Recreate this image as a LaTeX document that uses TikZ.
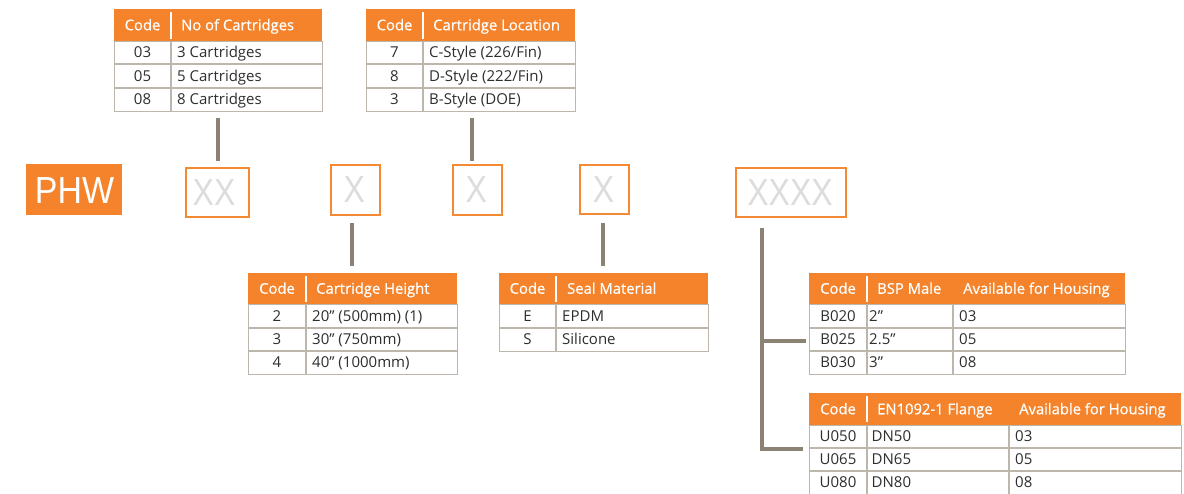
\documentclass[tikz,border=0pt]{standalone}
\usepackage{fontspec}
\setmainfont{Open Sans}
\newfontfamily\hdrfont[FakeBold=0.6]{Open Sans}
\newfontfamily\phwfont[FakeStretch=0.9]{Liberation Sans}
\newfontfamily\phfont[FakeStretch=0.85]{Liberation Sans}
\definecolor{orng}{HTML}{F4832B}
\definecolor{boxc}{HTML}{F58A35}
\definecolor{gridc}{HTML}{BDB6AC}
\definecolor{connc}{HTML}{8C8273}
\definecolor{bodyc}{HTML}{2E2E2E}
\definecolor{phc}{HTML}{DCDCDC}
\tikzset{
  hdr/.style={fill=orng, draw=none, inner sep=0pt, anchor=north west},
  tbody/.style={draw=gridc, line width=1.3pt, inner sep=0pt, anchor=north west, fill=white},
  gridline/.style={draw=gridc, line width=1.3pt},
  hdiv/.style={draw=white, line width=1.5pt},
  ht/.style={text=white, font=\hdrfont\fontsize{14.8}{14.8}\selectfont, inner sep=0pt, text height=10.5pt, text depth=0pt},
  bt/.style={text=bodyc, font=\fontsize{15}{15}\selectfont, inner sep=0pt, text height=10.7pt, text depth=0pt},
  conn/.style={draw=connc, line width=3.3pt},
  phbox/.style={draw=boxc, line width=2pt, inner sep=0pt, anchor=north west},
  phtext/.style={text=phc, font=\phfont\fontsize{37.7}{37.7}\selectfont, inner sep=0pt, text height=27pt, text depth=0pt},
}
\begin{document}
\begin{tikzpicture}[x=1pt,y=-1pt]
\useasboundingbox (0,0) rectangle (1184,493);

% ---------- Table 1: No of Cartridges ----------
\node[hdr, minimum width=208pt, minimum height=32pt] (t1h) at (114,9) {};
\node[tbody, minimum width=208pt, minimum height=70pt] (t1b) at (114,41) {};
\draw[gridline] (114,64) -- (322,64) (114,88) -- (322,88) (171,41) -- (171,111);
\draw[hdiv] (171,12) -- (171,39);
\node[ht] (t1c) at (142.5,25) {Code};
\node[ht, anchor=west] (t1n) at (181,25) {No of Cartridges};
\node[bt] (t1a1) at (142.5,52.5) {03};
\node[bt, anchor=west] (t1b1) at (177,52.5) {3 Cartridges};
\node[bt] (t1a2) at (142.5,76) {05};
\node[bt, anchor=west] (t1b2) at (177,76) {5 Cartridges};
\node[bt] (t1a3) at (142.5,99.5) {08};
\node[bt, anchor=west] (t1b3) at (177,99.5) {8 Cartridges};

% ---------- Table 2: Cartridge Location ----------
\node[hdr, minimum width=209pt, minimum height=32pt] (t2h) at (366,9) {};
\node[tbody, minimum width=209pt, minimum height=70pt] (t2b) at (366,41) {};
\draw[gridline] (366,64) -- (575,64) (366,88) -- (575,88) (423,41) -- (423,111);
\draw[hdiv] (423,12) -- (423,39);
\node[ht] (t2c) at (394.5,25) {Code};
\node[ht, anchor=west] (t2n) at (433,25) {Cartridge Location};
\node[bt] (t2a1) at (394.5,52.5) {7};
\node[bt, anchor=west] (t2b1) at (429,52.5) {C-Style (226/Fin)};
\node[bt] (t2a2) at (394.5,76) {8};
\node[bt, anchor=west] (t2b2) at (429,76) {D-Style (222/Fin)};
\node[bt] (t2a3) at (394.5,99.5) {3};
\node[bt, anchor=west] (t2b3) at (429,99.5) {B-Style (DOE)};

% ---------- Placeholder row ----------
\node[fill=orng, minimum width=96pt, minimum height=50.5pt, inner sep=0pt, anchor=north west] (phw) at (26,164) {};
\node[text=white, font=\phwfont\fontsize{37.7}{37.7}\selectfont, inner sep=0pt, text height=27pt, text depth=0pt] (phwt) at (74.5,189.5) {PHW};

\node[phbox, minimum width=63pt, minimum height=49.3pt] (xx) at (185,166.7) {};
\node[phtext] (xxt) at (214,192) {XX};
\node[phbox, minimum width=48.5pt, minimum height=49.4pt] (xa) at (330,164.3) {};
\node[phtext] (xat) at (354.3,189) {X};
\node[phbox, minimum width=48.5pt, minimum height=49.4pt] (xb) at (452,164.3) {};
\node[phtext] (xbt) at (476.2,189) {X};
\node[phbox, minimum width=49pt, minimum height=49pt] (xc) at (579,164) {};
\node[phtext] (xct) at (603.5,188.5) {X};
\node[phbox, minimum width=110pt, minimum height=49pt] (xd) at (735,167) {};
\node[phtext] (xdt) at (790,192) {XXXX};

% ---------- Table 3: Cartridge Height ----------
\node[hdr, minimum width=209pt, minimum height=31pt] (t3h) at (248,273) {};
\node[tbody, minimum width=209pt, minimum height=70pt] (t3b) at (248,304) {};
\draw[gridline] (248,328) -- (457,328) (248,351) -- (457,351) (306,304) -- (306,374);
\draw[hdiv] (306,276) -- (306,302);
\node[ht] (t3c) at (277,288.5) {Code};
\node[ht, anchor=west] (t3n) at (316,288.5) {Cartridge Height};
\node[bt] (t3a1) at (277,316) {2};
\node[bt, anchor=west] (t3b1) at (312,316) {20" (500mm) (1)};
\node[bt] (t3a2) at (277,339.5) {3};
\node[bt, anchor=west] (t3b2) at (312,339.5) {30" (750mm)};
\node[bt] (t3a3) at (277,362.5) {4};
\node[bt, anchor=west] (t3b3) at (312,362.5) {40" (1000mm)};

% ---------- Table 4: Seal Material ----------
\node[hdr, minimum width=209pt, minimum height=31pt] (t4h) at (499,273) {};
\node[tbody, minimum width=209pt, minimum height=47pt] (t4b) at (499,304) {};
\draw[gridline] (499,328) -- (708,328) (556,304) -- (556,351);
\draw[hdiv] (556,276) -- (556,302);
\node[ht] (t4c) at (527.5,288.5) {Code};
\node[ht, anchor=west] (t4n) at (567,288.5) {Seal Material};
\node[bt] (t4a1) at (527.5,316) {E};
\node[bt, anchor=west] (t4b1) at (562,316) {EPDM};
\node[bt] (t4a2) at (527.5,339.5) {S};
\node[bt, anchor=west] (t4b2) at (562,339.5) {Silicone};

% ---------- Table 5: BSP Male ----------
\node[hdr, minimum width=316pt, minimum height=31pt] (t5h) at (809,273) {};
\node[tbody, minimum width=316pt, minimum height=70pt] (t5b) at (809,304) {};
\draw[gridline] (809,328) -- (1125,328) (809,351) -- (1125,351) (867,304) -- (867,374) (953,304) -- (953,374);
\draw[hdiv] (867,276) -- (867,302);
\node[ht] (t5c) at (838,288.5) {Code};
\node[ht, anchor=west] (t5n) at (877,288.5) {BSP Male};
\node[ht, anchor=west] (t5m) at (963,288.5) {Available for Housing};
\node[bt] (t5a1) at (838,316) {B020};
\node[bt, anchor=west] (t5b1) at (869,316) {2"};
\node[bt, anchor=west] (t5d1) at (959,316) {03};
\node[bt] (t5a2) at (838,339.5) {B025};
\node[bt, anchor=west] (t5b2) at (869,339.5) {2.5"};
\node[bt, anchor=west] (t5d2) at (959,339.5) {05};
\node[bt] (t5a3) at (838,362.5) {B030};
\node[bt, anchor=west] (t5b3) at (869,362.5) {3"};
\node[bt, anchor=west] (t5d3) at (959,362.5) {08};

% ---------- Table 6: EN1092-1 Flange ----------
\node[hdr, minimum width=372pt, minimum height=32pt] (t6h) at (809,393) {};
\node[tbody, minimum width=372pt, minimum height=69pt] (t6b) at (809,425) {};
\draw[gridline] (809,448) -- (1181,448) (809,471) -- (1181,471) (867,425) -- (867,494) (1009,425) -- (1009,494);
\draw[hdiv] (867,396) -- (867,422);
\node[ht] (t6c) at (838,409) {Code};
\node[ht, anchor=west] (t6n) at (877,409) {EN1092-1 Flange};
\node[ht, anchor=west] (t6m) at (1019,409) {Available for Housing};
\node[bt] (t6a1) at (838,436.5) {U050};
\node[bt, anchor=west] (t6b1) at (871.5,436.5) {DN50};
\node[bt, anchor=west] (t6d1) at (1015,436.5) {03};
\node[bt] (t6a2) at (838,459.5) {U065};
\node[bt, anchor=west] (t6b2) at (871.5,459.5) {DN65};
\node[bt, anchor=west] (t6d2) at (1015,459.5) {05};
\node[bt] (t6a3) at (838,482.5) {U080};
\node[bt, anchor=west] (t6b3) at (871.5,482.5) {DN80};
\node[bt, anchor=west] (t6d3) at (1015,482.5) {08};

% ---------- Connectors ----------
\coordinate (c1a) at (218,118); \coordinate (c1b) at (218,161);
\draw[conn] (c1a) -- (c1b);
\coordinate (c2a) at (472,118); \coordinate (c2b) at (472,161);
\draw[conn] (c2a) -- (c2b);
\coordinate (c3a) at (352,223); \coordinate (c3b) at (352,266);
\draw[conn] (c3a) -- (c3b);
\coordinate (c4a) at (603,223); \coordinate (c4b) at (603,266);
\draw[conn] (c4a) -- (c4b);
\coordinate (c5top) at (762,228);
\coordinate (c5mid) at (762,341);
\coordinate (c5end) at (806,341);
\coordinate (c6end) at (803,449);
\draw[conn] (c5top) |- (c6end);
\draw[conn] (c5mid) -- (c5end);
\end{tikzpicture}
\end{document}
